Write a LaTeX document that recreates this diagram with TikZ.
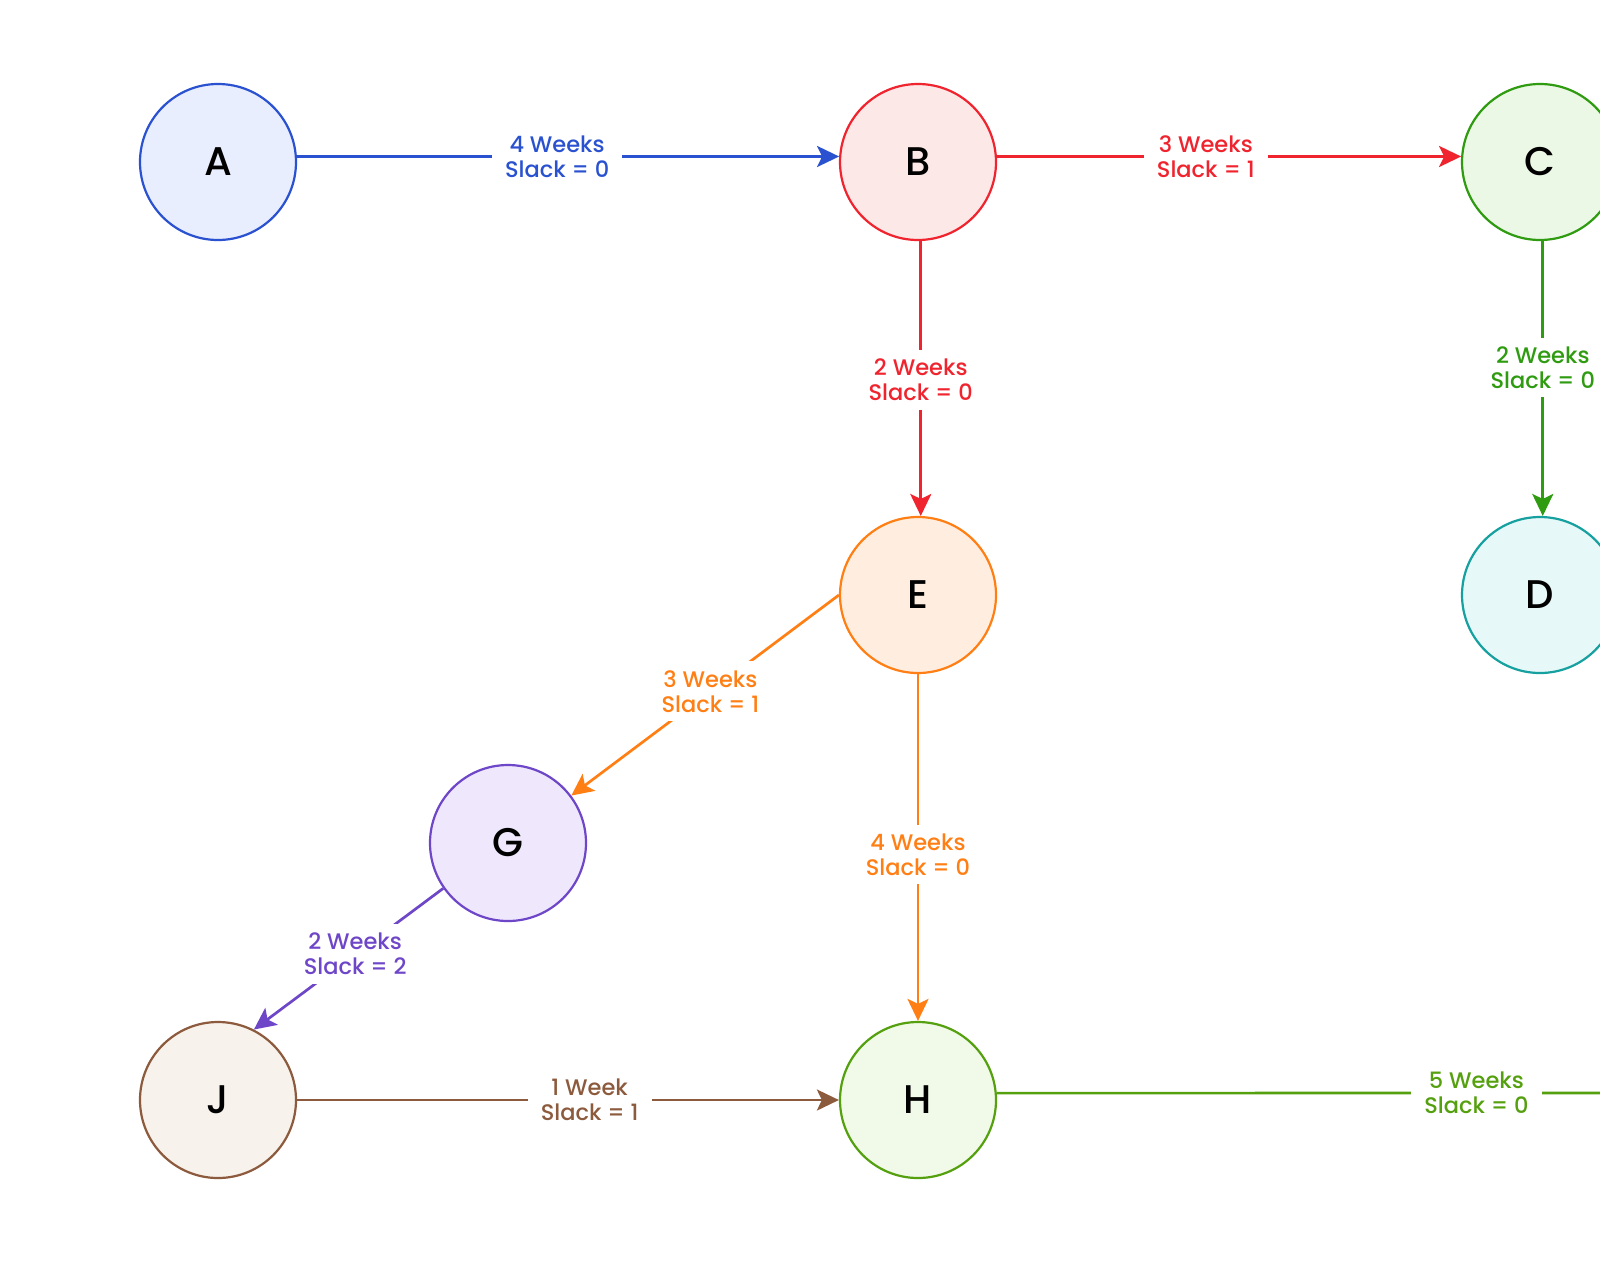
\documentclass[tikz,border=0pt]{standalone}
\usepackage{fontspec}
\setmainfont{Poppins}[UprightFont=* Medium]
\usetikzlibrary{arrows.meta}
\definecolor{blueA}{RGB}{42,82,208}   \definecolor{fillA}{RGB}{232,238,253}
\definecolor{redB}{RGB}{240,36,46}    \definecolor{fillB}{RGB}{253,232,232}
\definecolor{greenC}{RGB}{47,155,16}  \definecolor{fillC}{RGB}{236,248,230}
\definecolor{tealD}{RGB}{22,160,160}  \definecolor{fillD}{RGB}{230,248,248}
\definecolor{orangeE}{RGB}{255,127,20}\definecolor{fillE}{RGB}{255,238,224}
\definecolor{purpleG}{RGB}{110,70,200}\definecolor{fillG}{RGB}{239,232,253}
\definecolor{brownJ}{RGB}{140,90,60}  \definecolor{fillJ}{RGB}{247,242,236}
\definecolor{greenH}{RGB}{85,160,15}  \definecolor{fillH}{RGB}{241,250,232}

\begin{document}
\begin{tikzpicture}[x=1pt, y=-1pt,
  task/.style={circle, minimum size=156pt, inner sep=0pt, line width=2.2pt,
    font=\fontsize{40}{44}\selectfont},
  lbl/.style={fill=white, inner xsep=13pt, inner ysep=9pt, align=center,
    font=\fontsize{22.5}{25}\selectfont},
  dep/.style={line width=2.7pt, -{Stealth[length=22pt, width=21pt, inset=5pt]}}]
  \useasboundingbox (0,0) rectangle (1600,1270);
  \clip (0,0) rectangle (1600,1270);
  \fill[white] (0,0) rectangle (1600,1270);

  \node[task, draw=blueA, fill=fillA] (A) at (218,162) {A};
  \node[task, draw=redB, fill=fillB] (B) at (918,162) {B};
  \node[task, draw=greenC, fill=fillC] (C) at (1540,162) {C};
  \node[task, draw=tealD, fill=fillD] (D) at (1540,595) {D};
  \node[task, draw=orangeE, fill=fillE] (E) at (918,595) {E};
  \node[task, draw=purpleG, fill=fillG] (G) at (508,843) {G};
  \node[task, draw=brownJ, fill=fillJ] (J) at (218,1100) {J};
  \node[task, draw=greenH, fill=fillH] (H) at (918,1100) {H};
  \coordinate (K) at (1996,1093);

  \draw[dep, blueA] (A.4) -- node[lbl, pos=0.48] {4 Weeks\\Slack = 0} (B.176);
  \draw[dep, redB] (B.4) -- node[lbl, pos=0.45] {3 Weeks\\Slack = 1} (C.176);
  \draw[dep, redB] (B.-88.5) -- node[lbl, pos=0.505] {2 Weeks\\Slack = 0} (E.88.5);
  \draw[dep, greenC] (C.-88) -- node[lbl, pos=0.46] {2 Weeks\\Slack = 0} (D.88);
  \draw[dep, orangeE] (E.west) -- node[lbl, pos=0.48] {3 Weeks\\Slack = 1} (G);
  \draw[dep, orangeE] (E.south) -- node[lbl, pos=0.52] {4 Weeks\\Slack = 0} (H.north);
  \draw[dep, purpleG] (G.215) -- node[lbl, pos=0.465] {2 Weeks\\Slack = 2} (J.63);
  \draw[dep, brownJ] (J.east) -- node[lbl, pos=0.54] {1 Week\\Slack = 1} (H.west);
  \draw[dep, greenH] (H.5) -- node[lbl, pos=0.48] {5 Weeks\\Slack = 0} (K);
\end{tikzpicture}
\end{document}
